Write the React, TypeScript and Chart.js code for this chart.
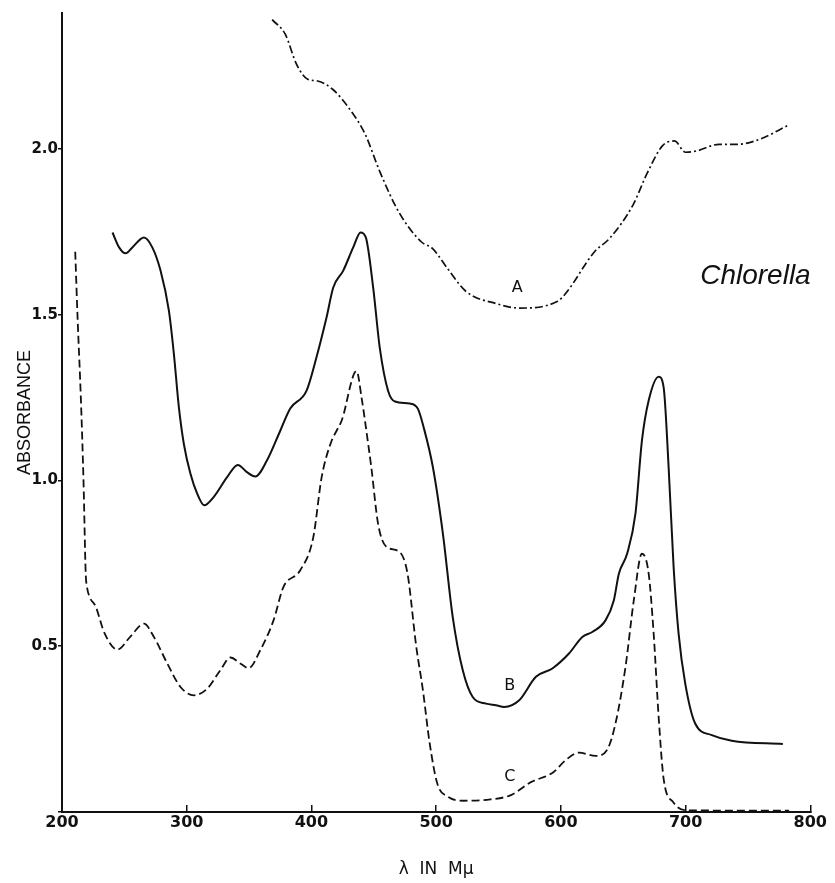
import React, { useEffect, useRef } from "react";
import { Chart, registerables } from "chart.js";

Chart.register(...registerables);

// Curve A (dash-dot)
const aNm = [368.5, 379, 388, 397, 405, 417, 430.7, 443, 455, 470, 488, 497, 509, 524, 548.7, 566.6, 597, 603, 627, 639, 657.7, 669.6, 681.6, 691, 700, 708.8, 727, 742, 760, 781.5];
const aAbs = [2.39, 2.346, 2.256, 2.21, 2.205, 2.18, 2.12, 2.045, 1.93, 1.81, 1.72, 1.7, 1.64, 1.57, 1.533, 1.52, 1.54, 1.56, 1.69, 1.73, 1.83, 1.93, 2.01, 2.024, 1.99, 1.994, 2.014, 2.014, 2.03, 2.07];

// Curve B (solid)
const bNm = [240.5, 245.8, 251, 256.4, 265.7, 272.4, 279, 285.7, 289.7, 293.7, 297.7, 303, 308.4, 314, 321.6, 332.4, 341, 348.3, 355, 364.3, 375, 383, 396, 404, 412, 417.5, 425.5, 433.5, 439.4, 443.6, 449.5, 454.8, 461.5, 467, 478.8, 485.4, 490, 497.4, 505.4, 513.3, 521.3, 529.3, 540, 548, 554.6, 566.6, 580, 593.2, 606.5, 617.2, 625.2, 635.8, 642.5, 646.5, 653.1, 659.8, 665, 670.4, 678.4, 682.4, 686.4, 690.4, 694.4, 699.7, 707.7, 721, 737, 778];
const bAbs = [1.748, 1.703, 1.685, 1.703, 1.733, 1.703, 1.633, 1.512, 1.382, 1.221, 1.11, 1.02, 0.96, 0.925, 0.95, 1.01, 1.047, 1.025, 1.012, 1.06, 1.15, 1.217, 1.27, 1.371, 1.49, 1.582, 1.633, 1.703, 1.748, 1.733, 1.582, 1.4, 1.27, 1.238, 1.232, 1.216, 1.16, 1.04, 0.84, 0.588, 0.428, 0.347, 0.327, 0.322, 0.317, 0.337, 0.408, 0.433, 0.478, 0.528, 0.543, 0.578, 0.639, 0.719, 0.779, 0.9, 1.12, 1.241, 1.313, 1.281, 1.04, 0.739, 0.538, 0.388, 0.267, 0.232, 0.215, 0.205];

// Curve C (dashed)
const cNm = [210.6, 212.5, 215.2, 217.3, 219, 220, 222, 227, 234, 244.5, 255, 265.7, 273.7, 284.4, 295, 305.7, 316.4, 327, 335, 343, 349.6, 359, 369.6, 377.6, 391, 401.5, 408.2, 416.2, 420.2, 424.2, 436.2, 440.2, 445.5, 448, 453.4, 460.1, 470.8, 477, 484, 489.4, 494.7, 501, 509.5, 522, 543.5, 560, 576, 594, 604, 614.5, 627.8, 637, 643.8, 651.8, 658.5, 665, 670.4, 674.4, 678.4, 682.4, 690, 701, 783];
const cAbs = [1.69, 1.49, 1.24, 0.99, 0.72, 0.68, 0.65, 0.62, 0.54, 0.49, 0.53, 0.568, 0.528, 0.448, 0.377, 0.352, 0.372, 0.428, 0.466, 0.448, 0.434, 0.488, 0.578, 0.679, 0.729, 0.829, 1.01, 1.12, 1.15, 1.18, 1.33, 1.25, 1.11, 1.04, 0.87, 0.8, 0.784, 0.72, 0.5, 0.367, 0.21, 0.085, 0.046, 0.034, 0.038, 0.051, 0.09, 0.12, 0.157, 0.179, 0.169, 0.187, 0.267, 0.437, 0.639, 0.779, 0.719, 0.538, 0.287, 0.1, 0.03, 0.005, 0.004];

// Curve labels
const labelTexts = ["A", "B", "C"];
const labelNm = [565, 559, 559];
const labelAbs = [1.58, 0.38, 0.105];
const noteText = "Chlorella";
const noteNm = 756;
const noteAbs = 1.617;

const xTitle = "λ  IN  Mμ";
const yTitle = "ABSORBANCE";

const toPts = (xs: number[], ys: number[]) => xs.map((x, i) => ({ x, y: ys[i] }));

const INK = "#111";

const labelPlugin = {
  id: "curveLabels",
  afterDatasetsDraw(chart: any) {
    const { ctx, scales } = chart;
    const xs = scales.x;
    const ys = scales.y;
    ctx.save();
    ctx.fillStyle = INK;
    ctx.textAlign = "center";
    ctx.textBaseline = "middle";
    ctx.font = "16px 'DejaVu Sans'";
    labelTexts.forEach((t, i) => {
      ctx.fillText(t, xs.getPixelForValue(labelNm[i]), ys.getPixelForValue(labelAbs[i]));
    });
    ctx.font = "italic 28px 'Liberation Sans'";
    ctx.fillText(noteText, xs.getPixelForValue(noteNm), ys.getPixelForValue(noteAbs));
    ctx.restore();
  },
};

export default function App() {
  const ref = useRef<HTMLCanvasElement | null>(null);
  useEffect(() => {
    if (!ref.current) return;
    const chart = new Chart(ref.current, {
      type: "line",
      data: {
        datasets: [
          {
            label: "A",
            data: toPts(aNm, aAbs),
            borderColor: INK,
            borderWidth: 1.7,
            borderDash: [8, 3, 2, 3],
            pointRadius: 0,
            cubicInterpolationMode: "monotone",
            fill: false,
          },
          {
            label: "B",
            data: toPts(bNm, bAbs),
            borderColor: INK,
            borderWidth: 2,
            pointRadius: 0,
            cubicInterpolationMode: "monotone",
            fill: false,
          },
          {
            label: "C",
            data: toPts(cNm, cAbs),
            borderColor: INK,
            borderWidth: 1.8,
            borderDash: [8, 4],
            pointRadius: 0,
            cubicInterpolationMode: "monotone",
            fill: false,
          },
        ],
      },
      options: {
        responsive: false,
        animation: false,
        devicePixelRatio: 1,
        layout: { padding: { top: 13, right: 23, left: 0, bottom: 0 } },
        plugins: {
          legend: { display: false },
          tooltip: { enabled: false },
          title: { display: false },
        },
        scales: {
          x: {
            type: "linear",
            min: 200,
            max: 800,
            afterFit: (s: any) => {
              s.height = 71;
            },
            border: { display: true, color: INK, width: 2 },
            grid: { drawOnChartArea: false, drawTicks: true, tickLength: -7, color: INK, lineWidth: 1.5 },
            ticks: {
              stepSize: 100,
              padding: 8,
              color: INK,
              font: { family: "'DejaVu Sans'", size: 16, weight: "bold" },
              maxRotation: 0,
            },
            title: {
              display: true,
              text: xTitle,
              color: INK,
              padding: 3,
              font: { family: "'DejaVu Sans'", size: 17 },
            },
          },
          y: {
            type: "linear",
            min: 0,
            max: 2.41,
            afterFit: (s: any) => {
              s.width = 62;
            },
            border: { display: true, color: INK, width: 2 },
            grid: { drawOnChartArea: false, drawTicks: true, tickLength: 4, color: INK, lineWidth: 1.5 },
            ticks: {
              stepSize: 0.5,
              includeBounds: false,
              padding: 0,
              color: INK,
              font: { family: "'DejaVu Sans'", size: 15, weight: "bold" },
              callback: (v: any) => (Number(v) === 0 ? "" : Number(v).toFixed(1)),
            },
            title: {
              display: true,
              text: yTitle,
              color: INK,
              padding: { top: 14, bottom: 0 },
              font: { family: "'Liberation Sans'", size: 18 },
            },
          },
        },
      },
      plugins: [labelPlugin],
    } as any);
    return () => chart.destroy();
  }, []);
  return (
    <div style={{ position: "fixed", left: 0, top: 0, width: 835, height: 883, background: "#fff" }}>
      <canvas ref={ref} width={835} height={883} style={{ display: "block" }} />
    </div>
  );
}
